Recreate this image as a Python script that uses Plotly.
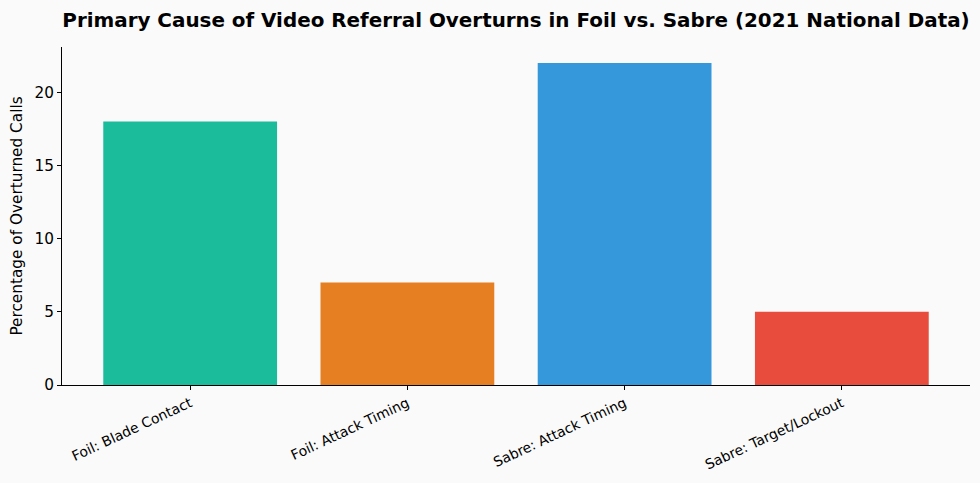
import plotly.graph_objects as go

categories = ["Foil: Blade Contact", "Foil: Attack Timing", "Sabre: Attack Timing", "Sabre: Target/Lockout"]
values = [18, 7, 22, 5]
bar_colors = ["#1ABC9C", "#E67E22", "#3498DB", "#E74C3C"]

BG = "#FAFAFA"
FONT = "DejaVu Sans"

fig = go.Figure(go.Bar(
    x=categories, y=values,
    marker=dict(color=bar_colors, line=dict(width=0)),
    width=0.8,
))

fig.update_layout(
    title=dict(
        text="<b>Primary Cause of Video Referral Overturns in Foil vs. Sabre (2021 National Data)</b>",
        x=516 / 980, xanchor="center", y=1 - 20 / 483, yanchor="middle",
        font=dict(family=FONT, size=19.9, color="black"),
    ),
    paper_bgcolor=BG, plot_bgcolor=BG,
    width=980, height=483,
    margin=dict(l=62, r=10, t=47, b=98),
    font=dict(family=FONT, color="black"),
    showlegend=False,
    xaxis=dict(
        range=[-0.59, 3.59],
        showline=True, linecolor="black", linewidth=1,
        ticks="outside", ticklen=4, tickcolor="black",
        tickangle=-25, tickfont=dict(size=13.9, family=FONT),
        showgrid=False,
    ),
    yaxis=dict(
        range=[0, 23.1],
        tickvals=[0, 5, 10, 15, 20],
        showline=True, linecolor="black", linewidth=1,
        ticks="outside", ticklen=4, tickcolor="black",
        tickfont=dict(size=15.3, family=FONT),
        showgrid=False, zeroline=False,
        title=dict(text="Percentage of Overturned Calls", font=dict(size=15.3, family=FONT), standoff=8),
    ),
)

# drop the page's default body margin so the figure sits flush at 0,0
fig.write_html("out.html", config={"displayModeBar": False},
               post_script="document.body.style.margin='0';")
